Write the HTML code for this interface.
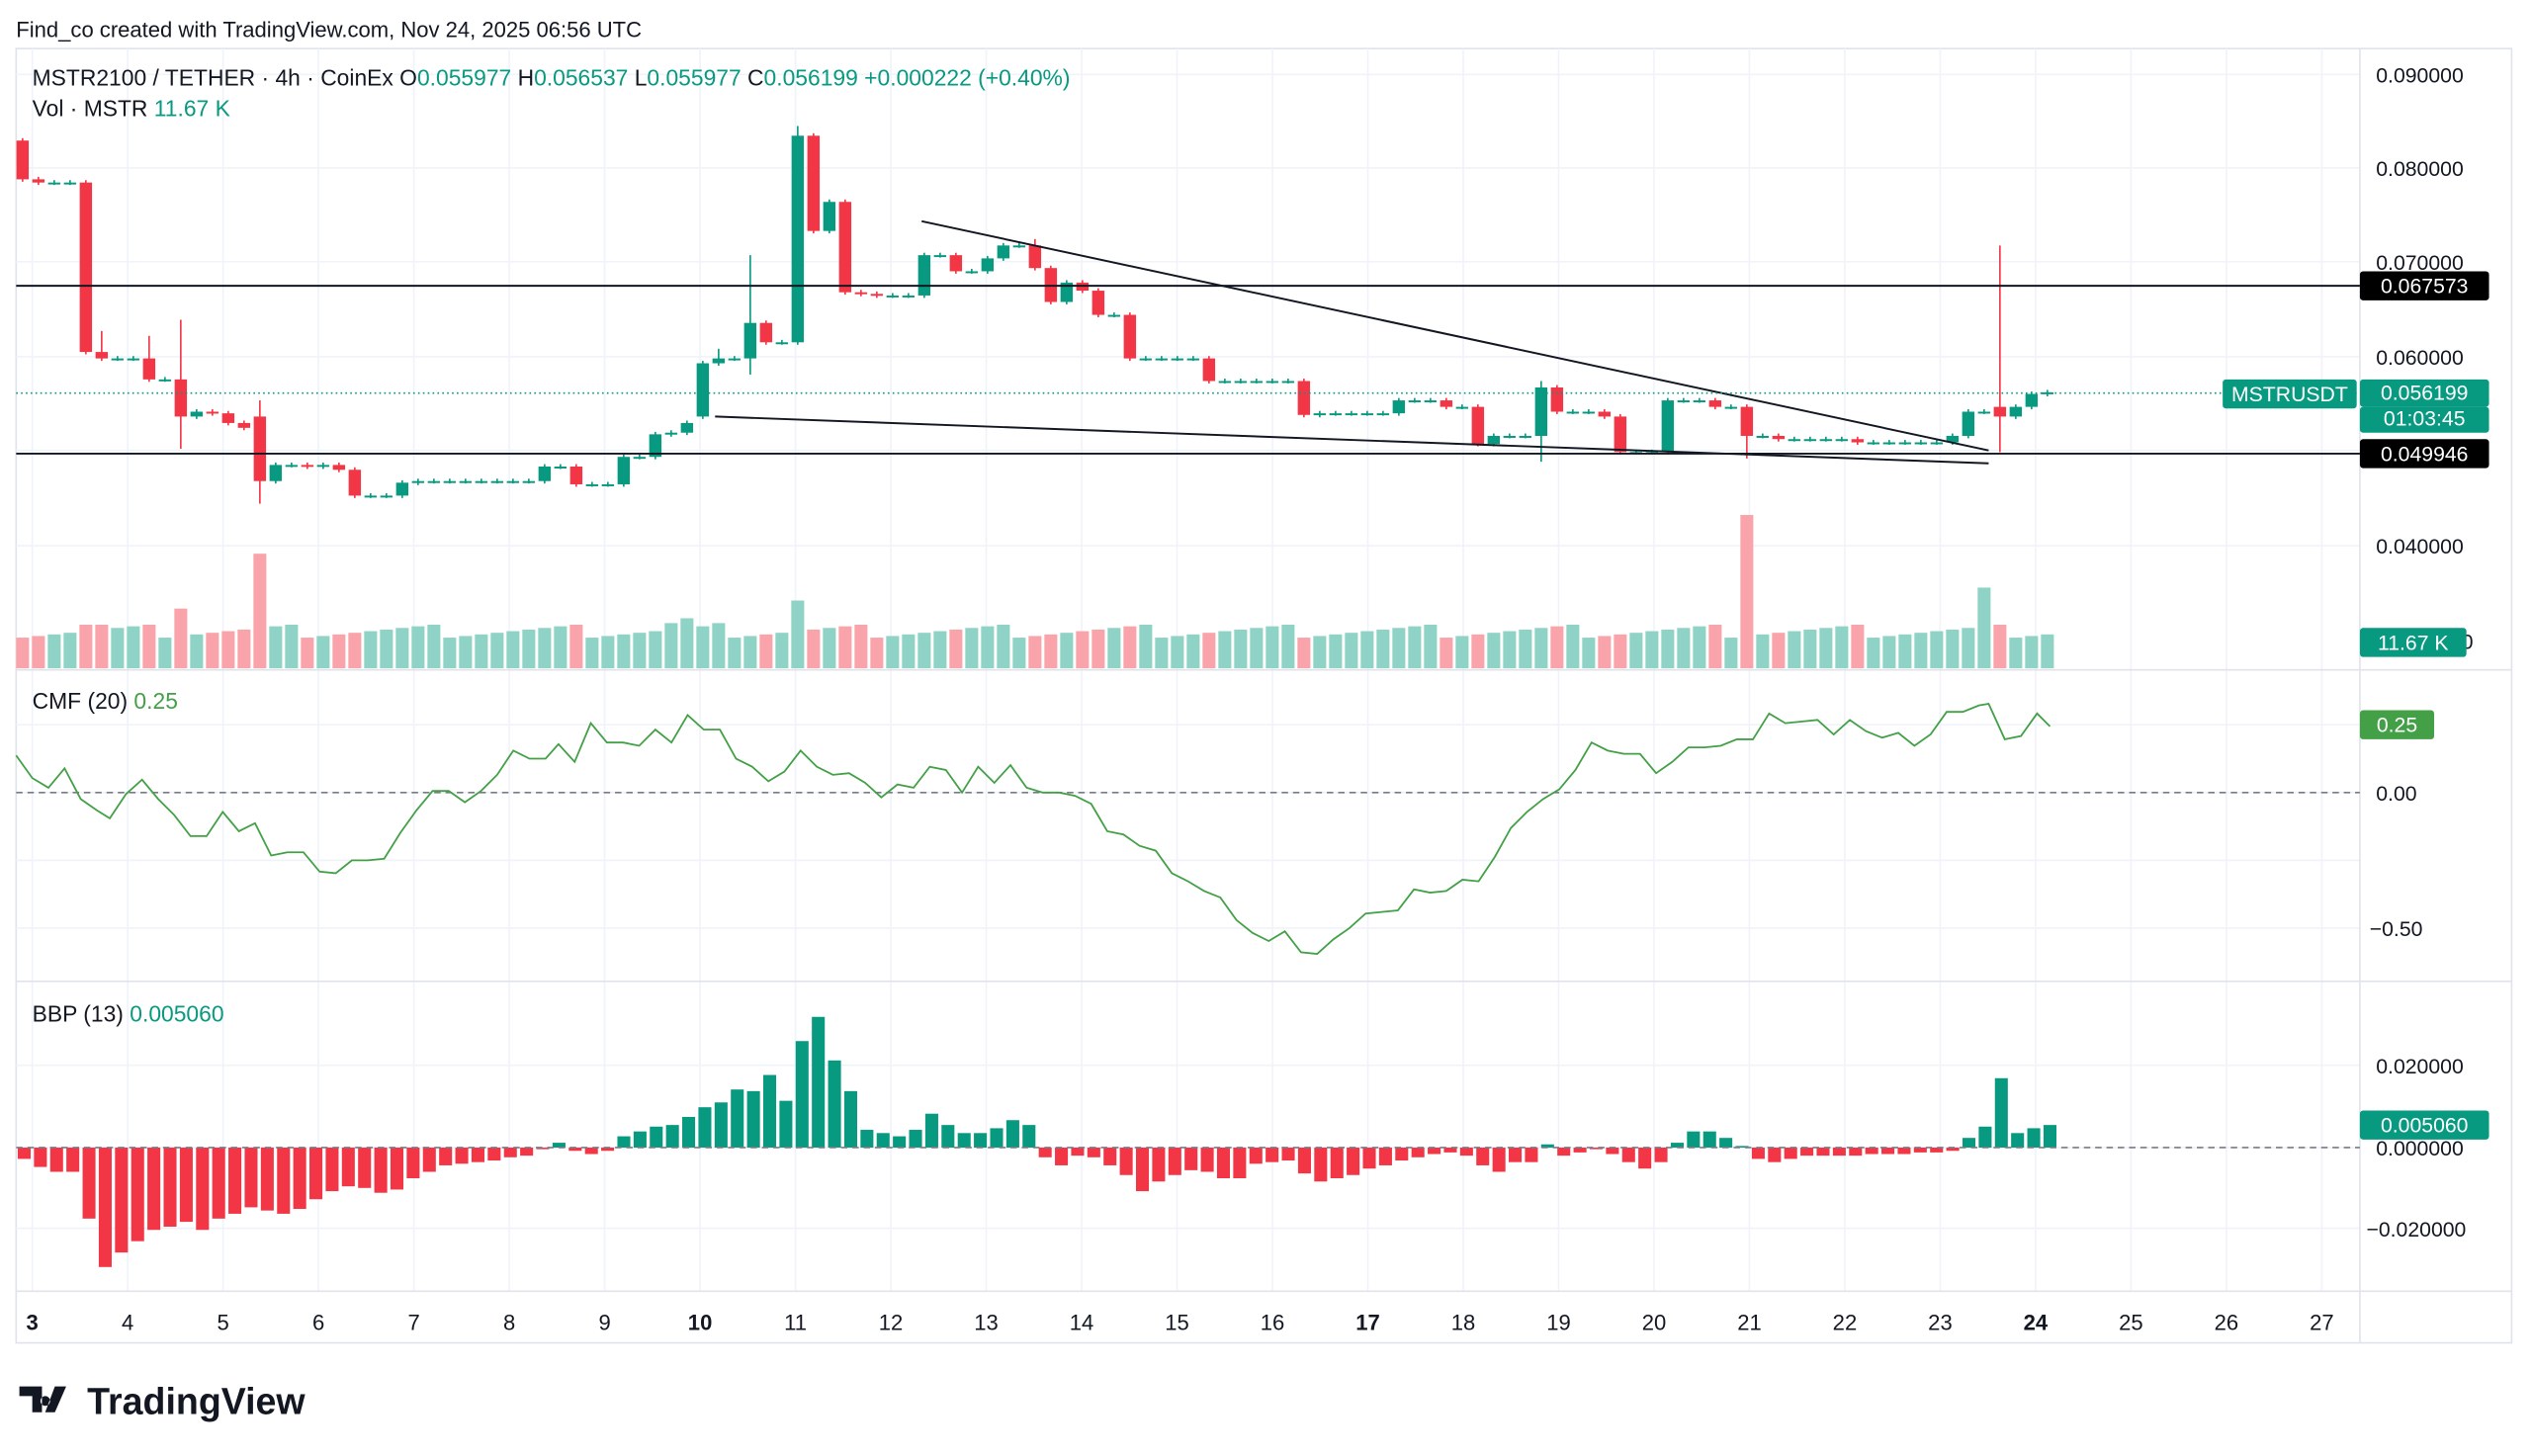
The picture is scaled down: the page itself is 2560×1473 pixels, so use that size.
<!DOCTYPE html>
<html><head><meta charset="utf-8">
<style>
html,body{margin:0;padding:0;background:#fff;}
svg{display:block;}
text{font-family:"Liberation Sans",Arial,sans-serif;}
</style></head>
<body>
<svg id="s" width="2560" height="1473" viewBox="0 0 1568 902" xmlns="http://www.w3.org/2000/svg">
<rect width="1568" height="902" fill="#fff"/>
<g id="grid"></g>
<g id="main"></g>
<text x="10" y="23" font-size="13.5" fill="#131722">Find_co created with TradingView.com, Nov 24, 2025 06:56 UTC</text>
<text x="20" y="53" font-size="14" fill="#131722">MSTR2100 / TETHER · 4h · CoinEx  O<tspan fill="#089981">0.055977</tspan>  H<tspan fill="#089981">0.056537</tspan>  L<tspan fill="#089981">0.055977</tspan>  C<tspan fill="#089981">0.056199</tspan>  <tspan fill="#089981">+0.000222 (+0.40%)</tspan></text>
<text x="20" y="72" font-size="14" fill="#131722">Vol · MSTR  <tspan fill="#089981">11.67 K</tspan></text>
<text x="20" y="439" font-size="14" fill="#131722">CMF (20)  <tspan fill="#43a047">0.25</tspan></text>
<text x="20" y="633" font-size="14" fill="#131722">BBP (13)  <tspan fill="#089981">0.005060</tspan></text>
<g font-size="13" fill="#131722">
<text x="1472" y="51">0.090000</text><text x="1472" y="109">0.080000</text><text x="1472" y="167">0.070000</text>
<text x="1472" y="226">0.060000</text><text x="1472" y="343">0.040000</text><text x="1525" y="402">0</text>
<text x="1472" y="496">0.00</text><text x="1468" y="580">−0.50</text>
<text x="1472" y="665">0.020000</text><text x="1472" y="716">0.000000</text><text x="1466" y="766">−0.020000</text>
</g>
<g id="lbl"></g>
<g font-size="13.5" fill="#131722" id="tax"></g>
<g transform="translate(12,857)">
<path d="M0 2h14v16h-6v-10h-8z M16 8a3 3 0 1 0 0.1 0z M22 2h7l-7 16h-6z" fill="#131722"/>
</g>
<text x="54" y="876" font-size="23" font-weight="bold" fill="#131722">TradingView</text>
</svg>
<script>
const NS="http://www.w3.org/2000/svg";
function el(p,t,a,txt){const e=document.createElementNS(NS,t);for(const k in a)e.setAttribute(k,a[k]);if(txt!==undefined)e.textContent=txt;p.appendChild(e);return e;}
const G=document.getElementById('grid'),M=document.getElementById('main'),L=document.getElementById('lbl'),T=document.getElementById('tax');
const R=1462;
el(G,'rect',{x:10,y:30,width:1546,height:802,fill:'none',stroke:'#e0e3eb','stroke-width':1});
const days=[3,4,5,6,7,8,9,10,11,12,13,14,15,16,17,18,19,20,21,22,23,24,25,26,27];
days.forEach((d,i)=>{const x=20+i*59.1;el(G,'line',{x1:x,x2:x,y1:30,y2:800,stroke:'#f0f3fa'});
 el(T,'text',{x:x,y:824,'text-anchor':'middle','font-weight':(d==3||d==10||d==17||d==24)?'bold':'normal'},String(d));});
[46,104,162,221,279,338].forEach(y=>el(G,'line',{x1:10,x2:R,y1:y,y2:y,stroke:'#f0f3fa'}));
[449,491,533,575].forEach(y=>el(G,'line',{x1:10,x2:R,y1:y,y2:y,stroke:'#f0f3fa'}));
[660,711,761].forEach(y=>el(G,'line',{x1:10,x2:R,y1:y,y2:y,stroke:'#f0f3fa'}));
[415,608,800].forEach(y=>el(G,'line',{x1:10,x2:1556,y1:y,y2:y,stroke:'#e0e3eb'}));
el(G,'line',{x1:R,x2:R,y1:30,y2:832,stroke:'#e0e3eb'});
const C=[111,113,113,113,218,222,222,222,235,235,258,255,256,262,265,298,288,288,289,288,291,307,307,307,299,298,298,298,298,298,298,298,298,289,289,300,300,300,283,283,269,268,262,225,222,222,200,212,212,84,143,125,181,182,183,183,183,158,158,168,168,160,152,152,166,187,175,180,195,195,222,222,222,222,222,236,236,236,236,236,236,257,256,256,256,256,256,248,248,248,252,252,275,270,270,270,240,255,255,255,258,280,280,280,248,248,248,252,252,270,270,272,272,272,272,272,274,274,274,274,274,274,270,255,255,258,252,244,243];
const O={0:87,15:258,43:258,125:252};
const H={5:205,10:198,15:248,46:158,49:78,125:152,64:148,8:208,44:216,96:236};
const Lw={10:278,15:312,125:280,96:286,109:284,46:232};
const GR='#089981',RD='#f23645';
const VT={15:343,49:372,109:319,124:364,10:377,42:383,4:387,5:387,44:386,41:386};
let prev=87;
const BBP=[718,723,726,726,755,785,776,769,762,760,757,762,755,752,748,750,752,749,743,738,735,736,739,737,730,726,722,721,720,719,717,716,712,708,713,715,713,704,701,698,697,692,686,683,675,676,666,682,645,630,657,676,700,702,704,700,690,697,702,702,699,694,697,717,722,716,717,722,728,738,732,728,725,726,730,730,721,720,719,727,732,730,728,724,722,719,717,715,714,716,722,726,720,720,709,716,714,712,715,720,724,720,708,701,701,705,710,718,720,718,716,716,716,716,715,715,715,714,714,713,705,698,668,702,699,697];
const SP=9.8;
for(let i=0;i<C.length;i++){
 const x=14+i*SP;const o=(O[i]!==undefined)?O[i]:prev;const c=C[i];prev=c;
 const up=c<=o;const col=up?GR:RD;
 const top=Math.min(o,c),bot=Math.max(o,c);
 const h=H[i]!==undefined?H[i]:top-1.5,l=Lw[i]!==undefined?Lw[i]:bot+1.5;
 const vt=VT[i]!==undefined?VT[i]:(395-((i*37)%9));
 el(M,'rect',{x:x-4,y:vt,width:8,height:414-vt,fill:up?'#8fd2c6':'#f9a4aa'});
 el(M,'line',{x1:x,x2:x,y1:h,y2:l,stroke:col,'stroke-width':1});
 el(M,'rect',{x:x-3.8,y:top,width:7.6,height:Math.max(bot-top,1.2),fill:col});
}
const bs=(1270-15)/(BBP.length-1);
BBP.forEach((b,i)=>{const x=15+i*bs;el(M,'rect',{x:x-4,y:Math.min(b,711),width:8,height:Math.max(Math.abs(b-711),0.8),fill:b<711?GR:RD});});
el(M,'line',{x1:10,x2:R,y1:177,y2:177,stroke:'#131722','stroke-width':1.2});
el(M,'line',{x1:10,x2:R,y1:281,y2:281,stroke:'#131722','stroke-width':1.2});
el(M,'line',{x1:571,y1:137,x2:1232,y2:279,stroke:'#131722','stroke-width':1.2});
el(M,'line',{x1:443,y1:258,x2:1232,y2:287,stroke:'#131722','stroke-width':1.2});
el(M,'line',{x1:10,x2:R,y1:243.5,y2:243.5,stroke:'#089981','stroke-dasharray':'1 2'});
el(M,'line',{x1:10,x2:R,y1:491,y2:491,stroke:'#787b86','stroke-dasharray':'4 3'});
el(M,'line',{x1:10,x2:R,y1:711,y2:711,stroke:'#787b86','stroke-dasharray':'4 3'});
const cmf=[[10,468],[20,482],[30,488],[40,476],[50,495],[60,502],[68,507],[78,492],[88,483],[98,495],[108,505],[118,518],[128,518],[138,503],[148,515],[158,510],[168,530],[178,528],[188,528],[198,540],[208,541],[218,533],[228,533],[238,532],[248,516],[258,502],[268,490],[278,490],[288,497],[298,490],[308,480],[318,465],[328,470],[338,470],[346,461],[356,472],[366,448],[376,460],[386,460],[396,462],[406,452],[416,460],[426,443],[436,452],[446,452],[456,470],[466,475],[476,484],[486,478],[496,465],[506,475],[516,480],[526,479],[536,485],[546,494],[556,486],[566,488],[576,475],[586,477],[596,491],[606,475],[616,485],[626,474],[636,488],[646,491],[656,491],[666,493],[676,498],[686,515],[696,517],[706,524],[716,527],[726,541],[736,546],[746,552],[756,556],[766,570],[776,578],[786,583],[796,577],[806,590],[816,591],[826,582],[836,575],[846,566],[856,565],[866,564],[876,551],[886,553],[896,552],[906,545],[916,546],[926,531],[936,513],[946,503],[956,495],[966,489],[976,477],[986,460],[996,465],[1006,467],[1016,467],[1026,479],[1036,472],[1046,463],[1056,463],[1066,462],[1076,458],[1086,458],[1096,442],[1106,448],[1116,447],[1126,446],[1136,455],[1146,446],[1156,453],[1166,457],[1176,454],[1186,462],[1196,455],[1206,441],[1216,441],[1226,437],[1232,436],[1242,458],[1252,456],[1262,442],[1270,450]];
el(M,'polyline',{points:cmf.map(p=>p.join(',')).join(' '),fill:'none',stroke:'#43a047','stroke-width':1.1});
function box(x,y,w,h,fill,txt,tc){el(L,'rect',{x:x,y:y,width:w,height:h,fill:fill,rx:2});el(L,'text',{x:x+w/2,y:y+h-4.5,'text-anchor':'middle','font-size':13,fill:tc||'#fff'},txt);}
box(1462,168,80,18,'#000','0.067573');
box(1377,235,83,18,'#089981','MSTRUSDT');
box(1462,235,80,17,'#089981','0.056199');
box(1462,252,80,16,'#089981','01:03:45');
box(1462,272,80,18,'#000','0.049946');
box(1462,389,66,18,'#089981','11.67 K');
box(1462,440,46,18,'#43a047','0.25');
box(1462,688,80,18,'#089981','0.005060');
</script>
</body></html>
